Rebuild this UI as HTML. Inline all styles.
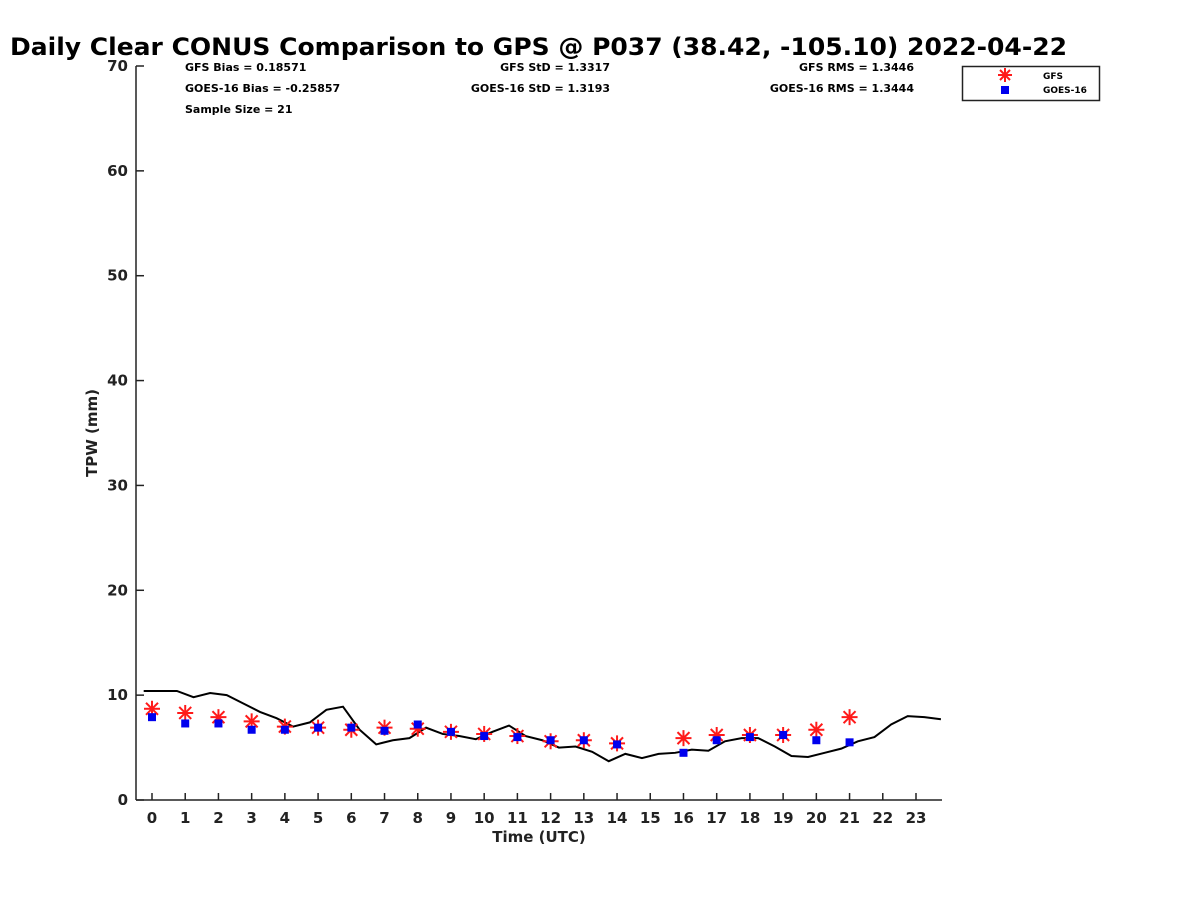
<!DOCTYPE html>
<html><head><meta charset="utf-8"><style>
body{margin:0;background:#fff;width:1200px;height:900px;overflow:hidden;font-family:"DejaVu Sans",sans-serif}
</style></head><body>
<svg id="chart" width="1200" height="900" xmlns="http://www.w3.org/2000/svg" font-family="DejaVu Sans, Liberation Sans, sans-serif" font-weight="bold">
<text x="10" y="55" font-size="24" fill="#000" textLength="1057" lengthAdjust="spacingAndGlyphs">Daily Clear CONUS Comparison to GPS @ P037 (38.42, -105.10) 2022-04-22</text>
<g font-size="11" fill="#000">
<text x="185" y="71">GFS Bias = 0.18571</text>
<text x="185" y="92">GOES-16 Bias = -0.25857</text>
<text x="185" y="113">Sample Size = 21</text>
<text x="610" y="71" text-anchor="end">GFS StD = 1.3317</text>
<text x="610" y="92" text-anchor="end">GOES-16 StD = 1.3193</text>
<text x="914" y="71" text-anchor="end">GFS RMS = 1.3446</text>
<text x="914" y="92" text-anchor="end">GOES-16 RMS = 1.3444</text>
</g>
<g>
<rect x="962.5" y="66.5" width="137" height="34" fill="#fff" stroke="#222" stroke-width="1.5"/>
<g stroke="#ff1a1a" stroke-width="2"><line x1="1005" y1="68" x2="1005" y2="82"/><line x1="998" y1="75" x2="1012" y2="75"/><line x1="1000" y1="70" x2="1010" y2="80"/><line x1="1000" y1="80" x2="1010" y2="70"/></g>
<rect x="1001" y="86" width="8" height="8" fill="#0000ee"/>
<text x="1043" y="79" font-size="9">GFS</text>
<text x="1043" y="93" font-size="9">GOES-16</text>
</g>
<g id="axes"></g>
<g id="marks"></g>
<text x="539" y="842" text-anchor="middle" font-size="15" fill="#222">Time (UTC)</text>
<text transform="translate(97,433) rotate(-90)" text-anchor="middle" font-size="15" fill="#222">TPW (mm)</text>
</svg>
<script>
const gpsTimes=[-0.25,0.25,0.75,1.25,1.75,2.25,2.75,3.25,3.75,4.25,4.75,5.25,5.75,6.25,6.75,7.25,7.75,8.25,8.75,9.25,9.75,10.25,10.75,11.25,11.75,12.25,12.75,13.25,13.75,14.25,14.75,15.25,15.75,16.25,16.75,17.25,17.75,18.25,18.75,19.25,19.75,20.25,20.75,21.25,21.75,22.25,22.75,23.25,23.75];
const gpsValues=[10.4,10.4,10.4,9.8,10.2,10.0,9.2,8.4,7.8,7.0,7.4,8.6,8.9,6.7,5.3,5.7,5.9,6.9,6.3,6.1,5.8,6.5,7.1,6.1,5.7,5.0,5.1,4.6,3.7,4.4,4.0,4.4,4.5,4.8,4.7,5.6,5.9,5.9,5.1,4.2,4.1,4.5,4.9,5.6,6.0,7.2,8.0,7.9,7.7];
const obsHours=[0,1,2,3,4,5,6,7,8,9,10,11,12,13,14,16,17,18,19,20,21];
const gfsValues=[8.7,8.3,7.9,7.5,7.0,6.9,6.7,6.9,6.8,6.5,6.3,6.1,5.6,5.7,5.4,5.9,6.2,6.2,6.2,6.7,7.9];
const goesValues=[7.9,7.3,7.3,6.7,6.7,6.9,6.9,6.6,7.2,6.5,6.1,6.0,5.7,5.7,5.3,4.5,5.7,6.0,6.2,5.7,5.5];
const xTicks=[0,1,2,3,4,5,6,7,8,9,10,11,12,13,14,15,16,17,18,19,20,21,22,23];
const yTicks=[0,10,20,30,40,50,60,70];
const L=136,R=942,T=66,B=800;
const xs=h=>152+h*(916-152)/23;
const ys=v=>B-(v/70)*(B-T);
const NS='http://www.w3.org/2000/svg';
function mk(tag,attrs,parent){const e=document.createElementNS(NS,tag);for(const k in attrs)e.setAttribute(k,attrs[k]);parent.appendChild(e);return e;}
const ax=document.getElementById('axes'),mg=document.getElementById('marks');
let e=mk('line',{x1:L,y1:B,x2:R,y2:B,stroke:'#222','stroke-width':1.5},ax);


e=mk('line',{x1:L,y1:T,x2:L,y2:B,stroke:'#222','stroke-width':1.5},ax);


xTicks.forEach(t=>{const x=xs(t);
 e=mk('line',{x1:x,y1:B,x2:x,y2:B-7,stroke:'#222','stroke-width':1.5},ax);
 
 
 e=mk('text',{x:x,y:823,'text-anchor':'middle','font-size':15,fill:'#222'},ax);e.textContent=t;
 
 
});
yTicks.forEach(t=>{const y=ys(t);
 e=mk('line',{x1:L,y1:y,x2:L+8,y2:y,stroke:'#222','stroke-width':1.5},ax);
 
 
 e=mk('text',{x:128,y:y+5,'text-anchor':'end','font-size':15,fill:'#222'},ax);e.textContent=t;
 
 
});
e=mk('polyline',{points:gpsTimes.map((t,i)=>xs(t)+','+ys(gpsValues[i])).join(' '),fill:'none',stroke:'#000','stroke-width':2},mg);


obsHours.forEach((h,i)=>{const x=xs(h),y=ys(gfsValues[i]);
 const g=mk('g',{stroke:'#ff1a1a','stroke-width':2},mg);
 
 
 mk('line',{x1:x,y1:y-8,x2:x,y2:y+8},g);mk('line',{x1:x-8,y1:y,x2:x+8,y2:y},g);
 mk('line',{x1:x-6,y1:y-6,x2:x+6,y2:y+6},g);mk('line',{x1:x-6,y1:y+6,x2:x+6,y2:y-6},g);
});
obsHours.forEach((h,i)=>{const x=xs(h),y=ys(goesValues[i]);
 e=mk('rect',{x:x-4,y:y-4,width:8,height:8,fill:'#0000ee'},mg);
 
 
});
</script>
</body></html>
